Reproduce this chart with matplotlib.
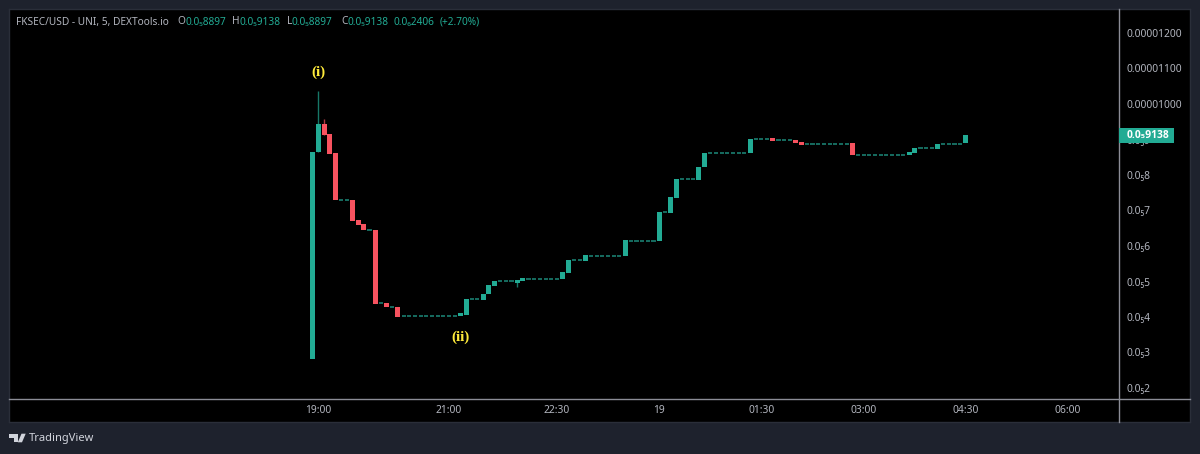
import matplotlib
matplotlib.use("Agg")
import matplotlib.pyplot as plt
from matplotlib.lines import Line2D
from matplotlib.patches import Polygon, Rectangle

# prices are in millionths of a USD
opens = [2.83, 8.64, 9.44, 9.15, 8.61, 7.30, 7.30, 7.30, 6.73, 6.61,
         6.46, 6.45, 4.39, 4.39, 4.28, 4.29, 4.03, 4.03, 4.03, 4.03,
         4.03, 4.03, 4.03, 4.03, 4.03, 4.03, 4.03, 4.06, 4.51, 4.51,
         4.49, 4.64, 4.88, 5.01, 5.01, 5.01, 4.97, 5.01, 5.08, 5.08,
         5.08, 5.08, 5.08, 5.08, 5.06, 5.24, 5.60, 5.60, 5.59, 5.73,
         5.73, 5.73, 5.73, 5.73, 5.73, 5.72, 6.15, 6.15, 6.15, 6.15,
         6.15, 6.14, 6.95, 6.94, 7.36, 7.88, 7.88, 7.88, 7.87, 8.22,
         8.62, 8.62, 8.62, 8.62, 8.62, 8.62, 8.62, 8.61, 9.02, 9.02,
         9.02, 9.04, 8.98, 8.98, 8.98, 8.99, 8.93, 8.87, 8.87, 8.87,
         8.87, 8.87, 8.87, 8.87, 8.87, 8.89, 8.57, 8.57, 8.57, 8.57,
         8.57, 8.57, 8.57, 8.57, 8.57, 8.56, 8.61, 8.75, 8.75, 8.75,
         8.73, 8.87, 8.87, 8.87, 8.87, 8.897]
closes = [8.66, 9.44, 9.14, 8.58, 7.30, 7.30, 7.30, 6.70, 6.59, 6.45,
          6.46, 4.37, 4.39, 4.27, 4.28, 4.01, 4.03, 4.03, 4.03, 4.03,
          4.03, 4.03, 4.03, 4.03, 4.03, 4.03, 4.10, 4.51, 4.51, 4.51,
          4.66, 4.91, 5.01, 5.01, 5.01, 5.01, 5.04, 5.10, 5.08, 5.08,
          5.08, 5.08, 5.08, 5.08, 5.27, 5.61, 5.60, 5.60, 5.74, 5.73,
          5.73, 5.73, 5.73, 5.73, 5.73, 6.16, 6.15, 6.15, 6.15, 6.15,
          6.15, 6.96, 6.95, 7.38, 7.88, 7.88, 7.88, 7.88, 8.23, 8.62,
          8.62, 8.62, 8.62, 8.62, 8.62, 8.62, 8.62, 9.02, 9.02, 9.02,
          9.02, 8.97, 8.98, 8.98, 8.98, 8.90, 8.85, 8.87, 8.87, 8.87,
          8.87, 8.87, 8.87, 8.87, 8.87, 8.56, 8.57, 8.57, 8.57, 8.57,
          8.57, 8.57, 8.57, 8.57, 8.57, 8.64, 8.76, 8.75, 8.75, 8.75,
          8.87, 8.87, 8.87, 8.87, 8.87, 9.138]
# bars with a visible wick: index, high, low
wick_bars = [1, 2, 36]
wick_highs = [10.37, 9.57, 5.04]
wick_lows = [8.64, 9.14, 4.85]

price_ticks = [2, 3, 4, 5, 6, 7, 8, 9, 10, 11, 12]
price_labels = ["0.0₅2", "0.0₅3", "0.0₅4", "0.0₅5", "0.0₅6", "0.0₅7", "0.0₅8", "0.0₅9",
                "0.00001000", "0.00001100", "0.00001200"]
time_ticks = [1, 24, 43, 61, 79, 97, 115, 133]
time_labels = ["19:00", "21:00", "22:30", "19", "01:30", "03:00", "04:30", "06:00"]
last_label = "0.0₅9138"

UP = "#22ab94"
DOWN = "#f7525f"
GRID = "#8b8d96"
TEXT = "#b2b5be"
FONT = ["Noto Sans", "DejaVu Sans"]

W, H = 1200, 454
plt.rcParams["font.family"] = FONT
fig = plt.figure(figsize=(W / 100, H / 100), dpi=100, facecolor="#1e222d")


def px_box(x0, y0, x1, y1):
    return [x0 / W, 1 - y1 / H, (x1 - x0) / W, (y1 - y0) / H]


def fx(x):
    return x / W


def fy(y):
    return 1 - y / H


# black pane with a thin border
pane = fig.add_axes(px_box(9, 9, 1190, 422), facecolor="black")
pane.set_xticks([])
pane.set_yticks([])
for s in pane.spines.values():
    s.set_color("#2a2e39")
    s.set_linewidth(1)

ax = fig.add_axes(px_box(9, 9, 1118, 398), facecolor="none")
# one bar is 5.68 px wide, one price unit 35.5 px tall
ax.set_xlim((9 - 312.7) / 5.68, (1118 - 312.7) / 5.68)
ax.set_ylim(8 - (398 - 175) / 35.5, 8 + (175 - 9) / 35.5)

for i, (o, c) in enumerate(zip(opens, closes)):
    if o == c:
        ax.hlines(o, i - 0.36, i + 0.36, color="#1c8a7a", lw=1.1)
    else:
        ax.bar(i, abs(c - o), bottom=min(o, c), width=0.88,
               color=UP if c > o else DOWN, linewidth=0)

for i, hi, lo in zip(wick_bars, wick_highs, wick_lows):
    col = UP if closes[i] > opens[i] else DOWN
    ax.vlines(i, lo, hi, color=col, lw=1, alpha=0.7)

ax.text(1, 10.9, "(i)", color="#ffeb3b", family="Liberation Serif", weight="bold",
        fontsize=11, ha="center", va="center")
ax.text(26, 3.44, "(ii)", color="#ffeb3b", family="Liberation Serif", weight="bold",
        fontsize=11, ha="center", va="center")

ax.set_yticks(price_ticks)
ax.set_yticklabels(price_labels)
ax.yaxis.tick_right()
ax.tick_params(axis="y", length=0, pad=6.4, labelsize=7.4, labelcolor=TEXT)
ax.set_xticks(time_ticks)
ax.set_xticklabels(time_labels)
ax.tick_params(axis="x", length=0, pad=5, labelsize=7.4, labelcolor=TEXT)
for s in ax.spines.values():
    s.set_visible(False)

# scale separators run across the whole pane
fig.add_artist(Line2D([fx(1118.5), fx(1118.5)], [fy(9), fy(422)], color=GRID, lw=1))
fig.add_artist(Line2D([fx(9), fx(1190)], [fy(398.5), fy(398.5)], color=GRID, lw=1))

# last price tag on the scale, over the 0.0s9 tick label
tag_y = 135.2
fig.add_artist(Rectangle((fx(1119), fy(tag_y + 7.5)), 55 / W, 15 / H, transform=fig.transFigure,
                         facecolor=UP, edgecolor="none", zorder=5))
fig.text(fx(1127), fy(tag_y), last_label, color="white", fontsize=7.4, va="center", weight="bold",
         family=["Open Sans", "DejaVu Sans"], zorder=6)

# header line
header = [(16, "FKSEC/USD - UNI, 5, DEXTools.io", TEXT), (177, "O", TEXT), (185, "0.0₅8897", UP),
          (232, "H", TEXT), (240, "0.0₅9138", UP), (287, "L", TEXT), (292, "0.0₅8897", UP),
          (341, "C", TEXT), (347, "0.0₅9138", UP), (394, "0.0₆2406", UP), (440, "(+2.70%)", UP)]
for x, s, col in header:
    fig.text(fx(x), fy(22), s, color=col, fontsize=7.3, va="center")

# TradingView logo and wordmark
logo = "#d1d4dc"
for pts in ([(9, 433.7), (18, 433.7), (18, 442.3), (13.5, 442.3), (13.5, 438), (9, 438)],
            [(21.5, 433.7), (25.7, 433.7), (22, 442.3), (17.8, 442.3)]):
    fig.add_artist(Polygon([(fx(x), fy(y)) for x, y in pts], transform=fig.transFigure,
                           facecolor=logo, edgecolor="none"))
fig.text(fx(29), fy(438.5), "TradingView", color=logo, fontsize=8.0, va="center")

fig.savefig("out.png", dpi=100, facecolor=fig.get_facecolor())
